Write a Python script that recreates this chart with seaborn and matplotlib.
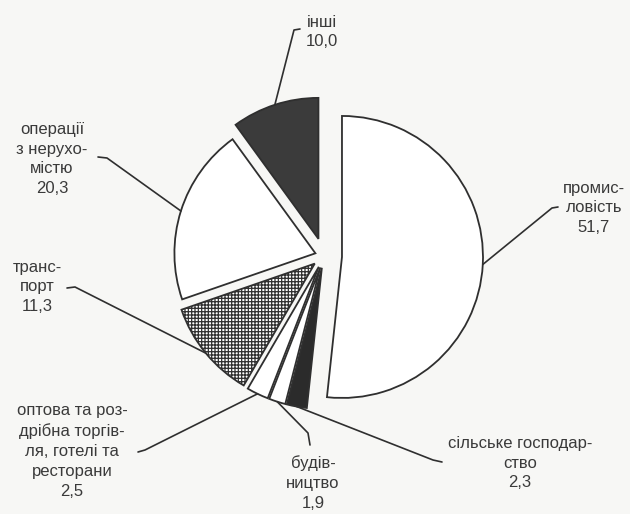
import matplotlib
matplotlib.use("Agg")
import numpy as np
import matplotlib.pyplot as plt
import seaborn as sns

# data (structure of value added, %)
sectors = ["промисловість", "сільське господарство", "будівництво",
           "оптова та роздрібна торгівля, готелі та ресторани",
           "транспорт", "операції з нерухомістю", "інші"]
shares = [51.7, 2.3, 1.9, 2.5, 11.3, 20.3, 10.0]
label_lines = ["промис-\nловість", "сільське господар-\nство", "будів-\nництво",
               "оптова та роз-\nдрібна торгів-\nля, готелі та\nресторани",
               "транс-\nпорт", "операції\nз нерухо-\nмістю", "інші"]

# layout (image pixels, y measured from the top)
W, H = 630, 514
pie_center = (324, 256)
pie_radius = 141
explode_px = [18, 12, 12, 12, 12, 9, 18]
fills = ["white", "#2b2b2b", "white", "white", "white", "white", "#3b3b3b"]
hatches = [None, None, None, None, "+++++", None, None]
text_xy = [(594, 208), (520, 463), (313, 483), (72, 451), (37, 287), (52, 159), (322, 32)]
elbow_xy = [(552, 208), (433, 460), (308, 433), (145, 450), (75, 287), (107, 158), (294, 30)]
tail_xy = [(558, 207), (442, 462), (310, 445), (138, 452), (67, 288), (98, 157), (300, 29)]

ink = "#2f2f2f"
bg = "#f7f7f5"

sns.set_theme(style="white")
plt.rcParams["font.family"] = ["Liberation Sans", "DejaVu Sans"]
plt.rcParams["hatch.linewidth"] = 0.9


def fy(p):
    return (p[0], H - p[1])


fig = plt.figure(figsize=(W / 100, H / 100), dpi=100, facecolor=bg)
ax = fig.add_axes([0, 0, 1, 1])
ax.set_facecolor(bg)

wedges, _ = ax.pie(shares, startangle=90, counterclock=False,
                   explode=explode_px, radius=pie_radius,
                   center=fy(pie_center),
                   wedgeprops=dict(edgecolor=ink, linewidth=1.3))
for w, fc, h in zip(wedges, fills, hatches):
    w.set_facecolor(fc)
    if h:
        w.set_hatch(h)

for w, txt, val, t, e, tl in zip(wedges, label_lines, shares, text_xy, elbow_xy, tail_xy):
    # leader line from the middle of the wedge's arc
    th = np.deg2rad((w.theta1 + w.theta2) / 2)
    cx, cy = w.center
    ax_pt = (cx + w.r * np.cos(th), cy + w.r * np.sin(th))
    pts = [ax_pt, fy(e), fy(tl)]
    ax.plot([p[0] for p in pts], [p[1] for p in pts], color=ink, lw=1.2,
            solid_capstyle="round", solid_joinstyle="round")
    value = f"{val:.1f}".replace(".", ",")
    ax.text(*fy(t), txt + "\n" + value, ha="center", va="center",
            fontsize=12, linespacing=1.4, color="#3a3a3a")

ax.set_xlim(0, W)
ax.set_ylim(0, H)
ax.set_aspect("auto")
ax.axis("off")

fig.savefig("out.png", dpi=100, facecolor=bg)
